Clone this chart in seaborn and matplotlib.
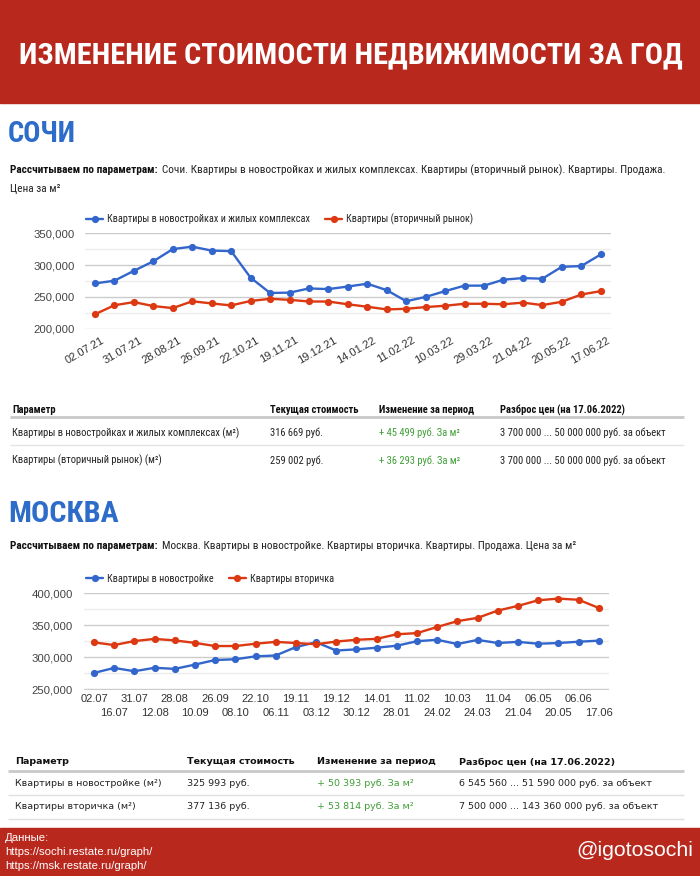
import os
import numpy as np
import pandas as pd
import seaborn as sns
import matplotlib
matplotlib.use("Agg")
import matplotlib.pyplot as plt
from matplotlib import font_manager as fm
from matplotlib.font_manager import FontProperties
from matplotlib.lines import Line2D
from matplotlib.patches import Rectangle
from matplotlib.ticker import FuncFormatter, MultipleLocator
from matplotlib.transforms import ScaledTranslation

# ---------------- data ----------------
title = "ИЗМЕНЕНИЕ СТОИМОСТИ НЕДВИЖИМОСТИ ЗА ГОД"

sochi_series = ["Квартиры в новостройках и жилых комплексах", "Квартиры (вторичный рынок)"]
sochi_ticks = ["02.07.21", "31.07.21", "28.08.21", "26.09.21", "22.10.21", "19.11.21", "19.12.21",
               "14.01.22", "11.02.22", "10.03.22", "29.03.22", "21.04.22", "20.05.22", "17.06.22"]
sochi_new = [271170, 275500, 291000, 306000, 325200, 329000, 322800, 322000, 280200, 256200,
             256700, 263300, 262300, 266300, 270700, 260600, 243200, 250000, 259100, 267700,
             267700, 277100, 279600, 278600, 297300, 298500, 316669]
sochi_sec = [222709, 236900, 241800, 235600, 232400, 243100, 239700, 236600, 243600, 247000,
             245400, 242800, 242700, 238400, 234500, 230300, 231300, 234000, 236100, 239200,
             239200, 238400, 241000, 237100, 242300, 253800, 259002]

msk_series = ["Квартиры в новостройке", "Квартиры вторичка"]
msk_ticks = ["02.07", "16.07", "31.07", "12.08", "28.08", "10.09", "26.09", "08.10", "22.10",
             "06.11", "19.11", "03.12", "19.12", "30.12", "14.01", "28.01", "11.02", "24.02",
             "10.03", "24.03", "11.04", "21.04", "06.05", "20.05", "06.06", "17.06"]
msk_new = [275600, 283400, 278200, 283600, 281900, 288600, 295800, 296900, 301500, 302800,
           316000, 323500, 310600, 312400, 315000, 318100, 325100, 327400, 320700, 327200,
           322300, 324100, 321200, 322300, 324300, 325993]
msk_sec = [323322, 319100, 325400, 328700, 326400, 322500, 317600, 317600, 321200, 324100,
           322300, 320400, 324600, 327400, 328800, 336000, 337800, 347400, 356500, 361600,
           373000, 380300, 389100, 391700, 389900, 377136]

table_head = ["Параметр", "Текущая стоимость", "Изменение за период", "Разброс цен (на 17.06.2022)"]
sochi_rows = [
    ["Квартиры в новостройках и жилых комплексах (м²)", "316 669 руб.", "+ 45 499 руб. За м²",
     "3 700 000 ... 50 000 000 руб. за объект"],
    ["Квартиры (вторичный рынок) (м²)", "259 002 руб.", "+ 36 293 руб. За м²",
     "3 700 000 ... 50 000 000 руб. за объект"],
]
msk_rows = [
    ["Квартиры в новостройке (м²)", "325 993 руб.", "+ 50 393 руб. За м²",
     "6 545 560 ... 51 590 000 руб. за объект"],
    ["Квартиры вторичка (м²)", "377 136 руб.", "+ 53 814 руб. За м²",
     "7 500 000 ... 143 360 000 руб. за объект"],
]
param_bold = "Рассчитываем по параметрам:"
sochi_params = "Сочи. Квартиры в новостройках и жилых комплексах. Квартиры (вторичный рынок). Квартиры. Продажа."
sochi_params2 = "Цена за м²"
msk_params = "Москва. Квартиры в новостройке. Квартиры вторичка. Квартиры. Продажа. Цена за м²"
footer_lines = ["Данные:", "https://sochi.restate.ru/graph/", "https://msk.restate.ru/graph/"]
handle = "@igotosochi"

# ---------------- styles ----------------
BLUE = "#3366CC"
REDL = "#DC3912"
BAND = "#B8281D"
HEAD_BLUE = "#2D6CC8"
GREEN = "#3E9E35"
W, H = 700, 876

sns.set_theme(style="white")
plt.rcParams["font.family"] = ["Liberation Sans", "DejaVu Sans"]

_files = {}
for f in fm.fontManager.ttflist:
    _files.setdefault(os.path.basename(f.fname).lower(), f.fname)


def font_file(names, fallback_weight="normal"):
    for n in names:
        if n.lower() in _files:
            return _files[n.lower()]
    return fm.findfont(FontProperties(family="DejaVu Sans", weight=fallback_weight))


TITLE_F = font_file(["NotoSans-ExtraCondensedBold.ttf", "OpenSans_Condensed-Bold.ttf",
                     "OpenSansCondensed-Bold.ttf", "RobotoCondensed-Bold.ttf",
                     "LiberationSansNarrow-Bold.ttf", "NotoSans-CondensedBold.ttf",
                     "DejaVuSansCondensed-Bold.ttf", "LiberationSans-Bold.ttf"], "bold")
NARROW = font_file(["LiberationSansNarrow-Regular.ttf", "RobotoCondensed-Regular.ttf",
                    "DejaVuSansCondensed.ttf", "LiberationSans-Regular.ttf"])
NARROW_B = font_file(["LiberationSansNarrow-Bold.ttf", "RobotoCondensed-Bold.ttf",
                      "DejaVuSansCondensed-Bold.ttf", "LiberationSans-Bold.ttf"], "bold")
ARIAL = font_file(["LiberationSans-Regular.ttf"])
ARIAL_B = font_file(["LiberationSans-Bold.ttf"], "bold")
VERD = font_file(["DejaVuSans.ttf"])
VERD_B = font_file(["DejaVuSans-Bold.ttf"], "bold")

fig = plt.figure(figsize=(W / 100, H / 100), dpi=100)
fig.patch.set_facecolor("white")
R = fig.canvas.get_renderer()


def fx(x):
    return x / W


def fy(y):
    return 1 - y / H


def measure(s, fpath, size=10):
    t = fig.text(0, 0, s, fontproperties=FontProperties(fname=fpath, size=size))
    w = t.get_window_extent(R).width
    t.remove()
    return w


def fit_size(s, fpath, width):
    return 10 * width / measure(s, fpath)


def put(x, y, s, fpath, size, color="#222222", ha="left", va="center", **kw):
    return fig.text(fx(x), fy(y), s, fontproperties=FontProperties(fname=fpath, size=size),
                    color=color, ha=ha, va=va, **kw)


def text_width(t):
    return t.get_window_extent(R).width


def hline(x0, x1, y, color, lw):
    fig.add_artist(Line2D([fx(x0), fx(x1)], [fy(y), fy(y)], transform=fig.transFigure,
                          color=color, lw=lw, solid_capstyle="butt"))


# ---------------- bands ----------------
fig.add_artist(Rectangle((0, fy(103)), 1, 103 / H, transform=fig.transFigure,
                         color=BAND, zorder=0))
fig.add_artist(Rectangle((0, 0), 1, (H - 828) / H, transform=fig.transFigure,
                         color=BAND, zorder=0))
put(350.5, 55, title, TITLE_F, fit_size(title, TITLE_F, 661), color="white", ha="center")

# ---------------- headings ----------------
put(8, 134, "СОЧИ", TITLE_F, fit_size("СОЧИ", TITLE_F, 68), color=HEAD_BLUE)
put(8, 514, "МОСКВА", TITLE_F, fit_size("МОСКВА", TITLE_F, 110), color=HEAD_BLUE)

# one common size for the bold lead-in and the normal text, fitted to the full line width
total10 = measure(param_bold, NARROW_B) + measure(sochi_params, NARROW)
sub_size = 10 * (652 - 4) / total10
for (y, rest) in [(170, sochi_params), (546, msk_params)]:
    tb = put(10, y, param_bold, NARROW_B, sub_size, color="#111111")
    put(10 + text_width(tb) + 4, y, rest, NARROW, sub_size, color="#222222")
put(10, 188, sochi_params2, NARROW, sub_size, color="#222222")


# ---------------- charts ----------------
def make_chart(series, new, sec, x0px, x1px, ybpx, ytpx, ylo, yhi):
    n = len(new)
    sx = (x1px - x0px) / (n - 1)
    xpad = 0.52
    left, right = x0px - xpad * sx, x1px + xpad * sx
    sy = (ybpx - ytpx) / (yhi - ylo)
    ypad = 1200
    bottom, top = ybpx + ypad * sy, ytpx - ypad * sy
    ax = fig.add_axes([fx(left), fy(bottom), (right - left) / W, (bottom - top) / H])
    df = pd.DataFrame({
        "i": list(range(n)) * 2,
        "v": list(new) + list(sec),
        "s": [series[0]] * n + [series[1]] * n,
    })
    sns.lineplot(data=df, x="i", y="v", hue="s", hue_order=series, palette=[BLUE, REDL],
                 marker="o", markersize=5.2, markeredgewidth=0, linewidth=1.7,
                 ax=ax, legend=False)
    ax.set_xlim(-xpad, n - 1 + xpad)
    ax.set_ylim(ylo - ypad, yhi + ypad)
    ax.yaxis.set_major_locator(MultipleLocator(50000))
    ax.yaxis.set_minor_locator(MultipleLocator(25000))
    ax.yaxis.set_major_formatter(FuncFormatter(lambda v, p: f"{int(round(v)):,}"))
    ax.grid(True, which="major", axis="y", color="#cccccc", lw=1)
    ax.grid(True, which="minor", axis="y", color="#ebebeb", lw=1)
    ax.grid(False, axis="x")
    ax.set_axisbelow(True)
    for s in ax.spines.values():
        s.set_visible(False)
    ax.tick_params(which="both", length=0)
    ax.tick_params(axis="y", pad=7.5)
    ax.set_xlabel("")
    ax.set_ylabel("")
    for lab in ax.get_yticklabels():
        lab.set_fontproperties(FontProperties(fname=ARIAL, size=8.2))
        lab.set_color("#444444")
    return ax


def add_legend(ax, series, ycenter, textw):
    fs = fit_size(series[0], NARROW, textw)
    fs_px = fs * 100 / 72
    handles = [Line2D([], [], color=c, lw=1.7, marker="o", ms=5.2, mew=0) for c in (BLUE, REDL)]
    ax.legend(handles, series, loc="center left", bbox_to_anchor=(fx(86), fy(ycenter)),
              bbox_transform=fig.transFigure, ncol=2, frameon=False, borderpad=0,
              borderaxespad=0, handlelength=17 / fs_px, handletextpad=4 / fs_px,
              columnspacing=15 / fs_px, prop=FontProperties(fname=NARROW, size=fs),
              labelcolor="#222222")


# Sochi
ax1 = make_chart(sochi_series, sochi_new, sochi_sec, 95, 600.7, 328.7, 233.3, 200000, 350000)
add_legend(ax1, sochi_series, 219, 202)
ax1.set_xticks(range(0, len(sochi_new), 2))
ax1.set_xticklabels(sochi_ticks, rotation=30, ha="right", va="top", rotation_mode="anchor",
                    fontproperties=FontProperties(fname=ARIAL, size=8.0), color="#333333")
ax1.tick_params(axis="x", pad=4)
off = ScaledTranslation(4 / 72, 0, fig.dpi_scale_trans)
for lab in ax1.get_xticklabels():
    lab.set_transform(lab.get_transform() + off)

# Moscow: even dates on the first row (major ticks), odd dates on the second row (minor ticks)
ax2 = make_chart(msk_series, msk_new, msk_sec, 94, 598.7, 689.3, 593.3, 250000, 400000)
add_legend(ax2, msk_series, 579, 106)
tick_fp = FontProperties(fname=ARIAL, size=8.0)
ax2.set_xticks(range(0, len(msk_new), 2))
ax2.set_xticklabels(msk_ticks[0::2], fontproperties=tick_fp, color="#333333")
ax2.set_xticks(range(1, len(msk_new), 2), minor=True)
ax2.set_xticklabels(msk_ticks[1::2], minor=True, fontproperties=tick_fp, color="#333333")
ax2.tick_params(axis="x", which="major", pad=3)
ax2.tick_params(axis="x", which="minor", pad=13)

# ---------------- tables ----------------
# Sochi table (narrow font)
s_cols = [12, 270, 379, 500]
s_hsize = fit_size(table_head[3], NARROW_B, 126)
s_rsize = fit_size(sochi_rows[0][0], NARROW, 226)
for x, h in zip(s_cols, table_head):
    put(x, 410, h, NARROW_B, s_hsize, color="#111111")
hline(10, 684, 417.5, "#c9c9c9", 2)
for r, y in zip(sochi_rows, [433, 460.5]):
    for j, (x, v) in enumerate(zip(s_cols, r)):
        put(x, y, v, NARROW, s_rsize, color=GREEN if j == 2 else "#222222")
hline(10, 684, 445, "#e3e3e3", 1)

# Moscow table (Verdana-like font)
m_cols = [15, 187, 317, 459]
m_hsize = fit_size(table_head[3], VERD_B, 156)
m_rsize = fit_size(msk_rows[0][0], VERD, 146)
for x, h in zip(m_cols, table_head):
    put(x, 762, h, VERD_B, m_hsize, color="#111111")
hline(8, 684, 770.5, "#c9c9c9", 2)
for r, y in zip(msk_rows, [783, 806.5]):
    for j, (x, v) in enumerate(zip(m_cols, r)):
        put(x, y, v, VERD, m_rsize, color=GREEN if j == 2 else "#222222")
hline(8, 684, 795, "#e0e0e0", 1)
hline(8, 684, 818.5, "#e0e0e0", 1)

# ---------------- footer ----------------
f_size = fit_size(footer_lines[1], ARIAL, 147)
for y, s in zip([838, 852, 866], footer_lines):
    put(5, y, s, ARIAL, f_size, color="white")
put(693, 850, handle, ARIAL, fit_size(handle, ARIAL, 118), color="white", ha="right")

fig.savefig("out.png", dpi=100, facecolor="white")
